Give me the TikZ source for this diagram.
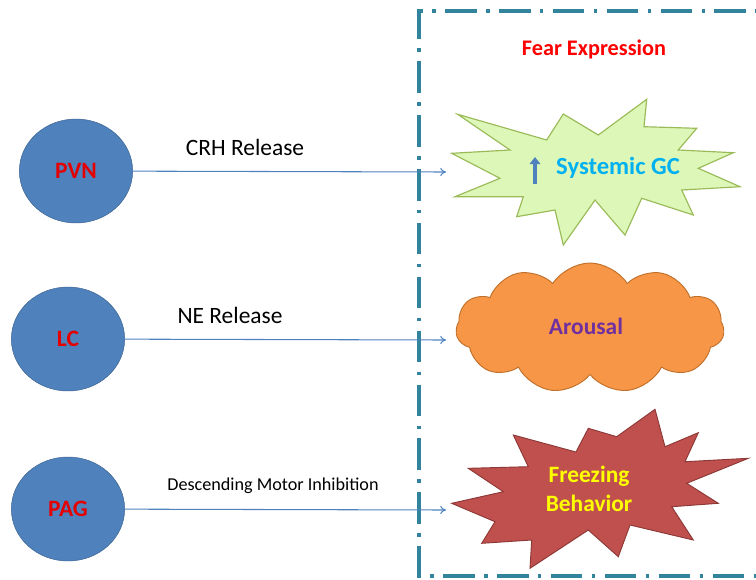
\documentclass[tikz,border=0pt]{standalone}
\usepackage{fontspec}
\setmainfont{Carlito}
\usepackage{xcolor}
\usetikzlibrary{shapes.geometric,shapes.symbols,arrows.meta}
\definecolor{nucblue}{HTML}{4F81BD}
\definecolor{boxteal}{HTML}{31849B}
\definecolor{fearred}{HTML}{FF0000}
\definecolor{gcgreen}{HTML}{DDF7B8}
\definecolor{gcedge}{HTML}{9BBB59}
\definecolor{gccyan}{HTML}{00B0F0}
\definecolor{cloudorange}{HTML}{F79646}
\definecolor{cloudedge}{HTML}{C0702A}
\definecolor{freezered}{HTML}{C0504D}
\definecolor{freezeedge}{HTML}{8C3836}
\definecolor{arousalpurple}{HTML}{7030A0}
\definecolor{freezeyellow}{HTML}{FFFF00}

\begin{document}
\begin{tikzpicture}[x=0.03cm,y=-0.03cm,
    nucleus/.style={ellipse,draw=nucblue!75!black,fill=nucblue,
        minimum width=3.4cm,minimum height=3.12cm,
        text=red!90!black,font=\fontsize{20}{22}\selectfont\bfseries},
    pathway/.style={draw=nucblue,line width=0.9pt,-{To[length=5pt,width=7pt]}},
    pathlabel/.style={font=\fontsize{20}{22}\selectfont},
    outcome/.style={font=\fontsize{20}{25}\selectfont\bfseries,align=center}]
    % frame of the picture
    \useasboundingbox (0,0) rectangle (756,579);
    \clip (0,0) rectangle (756,579);
    % dash-dotted box round the fear expression
    \draw[boxteal,line width=2.8pt,dash pattern=on 27pt off 8pt on 3pt off 8pt]
        (800,11) -- (419,11) -- (419,576) -- (800,576);
    \node[font=\fontsize{19}{22}\selectfont\bfseries,text=fearred] (fear) at (594,49) {Fear Expression};
    % the three nuclei
    \node[nucleus] (PVN) at (76,171) {PVN};
    \node[nucleus] (LC) at (68,339) {LC};
    \node[nucleus] (PAG) at (68,509) {PAG};
    % end points of the pathways
    \coordinate (gcin) at (446,172);
    \coordinate (arin) at (446,340);
    \coordinate (frin) at (446,510);
    % starburst for the glucocorticoids
    \draw[gcedge,line width=1pt,fill=gcgreen]
        (457.7,114.3) -- (546.7,140) -- (563.3,114) -- (598.3,135) -- (646.7,99.3)
        -- (644,126.7) -- (696.7,128.3) -- (678.3,150) -- (733.3,152.7) -- (698.3,168.3)
        -- (740,186.7) -- (681.7,190) -- (693.3,215) -- (641.7,198.3) -- (625,235)
        -- (595,200) -- (563.3,245) -- (555,210) -- (516.7,216.7) -- (523.3,196.7)
        -- (455,196.7) -- (500,178.3) -- (451.7,153.3) -- (510,150) -- cycle;
    \draw[nucblue,line width=2.6pt,-{Triangle[length=6pt,width=9pt]}] (535,184) -- (535,157);
    \node[outcome,font=\fontsize{21}{25}\selectfont\bfseries,text=gccyan] (GC) at (618,168) {Systemic GC};
    % cloud for the arousal
    \node[cloud,cloud puffs=11,cloud puff arc=115,draw=cloudedge,fill=cloudorange,
        line width=0.8pt,minimum width=8.05cm,minimum height=3.9cm,aspect=2]
        (cloudA) at (590,328) {};
    \node[outcome,text=arousalpurple] (arousal) at (586,326) {Arousal};
    % starburst for the freezing
    \draw[freezeedge,line width=0.8pt,fill=freezered]
        (513.3,435) -- (576,452) -- (588.3,428.3) -- (616.7,436.7) -- (655,409.3)
        -- (665,446.7) -- (698.3,432.7) -- (685,461.7) -- (748.3,458.3) -- (686.7,483.3)
        -- (718.3,503.3) -- (671.7,506.7) -- (693.3,540) -- (630,525) -- (618.3,556.7)
        -- (588.3,530) -- (530,568.3) -- (531.7,540) -- (481.7,543.3) -- (495,521.7)
        -- (451.7,503.3) -- (503.3,491.7) -- (468.3,468.3) -- (528.3,466.7) -- cycle;
    \node[outcome,text=freezeyellow] (freeze) at (589,489) {Freezing\\Behavior};
    % pathways from the nuclei
    \draw[pathway] (PVN) -- (gcin);
    \draw[pathway] (LC) -- (arin);
    \draw[pathway] (PAG) -- (frin);
    \node[pathlabel] (crh) at (245,147) {CRH Release};
    \node[pathlabel] (ne) at (230,315) {NE Release};
    \node[font=\fontsize{15.5}{17}\selectfont] (dmi) at (273,486) {Descending Motor Inhibition};
\end{tikzpicture}
\end{document}
